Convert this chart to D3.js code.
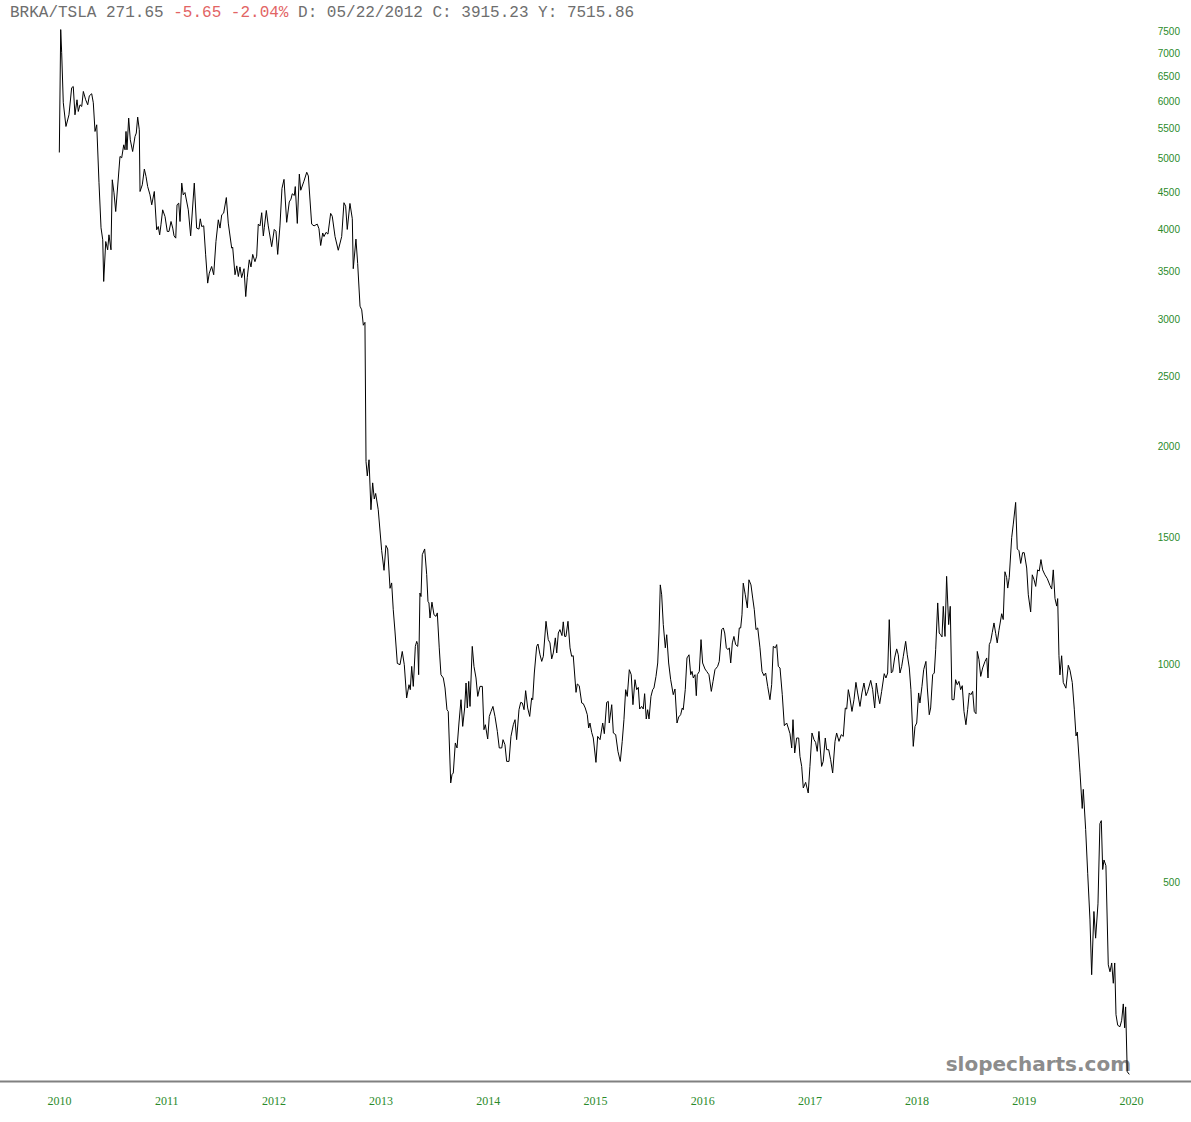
<!DOCTYPE html>
<html>
<head>
  <meta charset="utf-8">
  <title>BRKA/TSLA</title>
  <style>
    body { margin: 0; background: #fff; }
    svg { display: block; }
  </style>
</head>
<body>
  <script src="https://d3js.org/d3.v7.min.js"></script>
  <script>
    // tick labels
    var years = [2010, 2011, 2012, 2013, 2014, 2015, 2016, 2017, 2018, 2019, 2020];
    var yTicks = [500, 1000, 1500, 2000, 2500, 3000, 3500, 4000, 4500, 5000, 5500, 6000, 6500, 7000, 7500];

    // header line: ticker, last, change, hover info
    var header = [
      { text: "BRKA/TSLA 271.65 ", color: "#6e6e6e" },
      { text: "-5.65 -2.04%", color: "#e26464" },
      { text: " D: 05/22/2012 C: 3915.23 Y: 7515.86", color: "#6e6e6e" }
    ];

    // series (decimal year, ratio)
    var dates = [
      2010.003,2010.016,2010.025,2010.040,2010.065,2010.093,2010.118,2010.133,2010.149,2010.168,
      2010.180,2010.196,2010.212,2010.227,2010.249,2010.268,2010.283,2010.305,2010.320,2010.336,
      2010.352,2010.373,2010.392,2010.408,2010.417,2010.436,2010.454,2010.466,2010.485,2010.497,
      2010.513,2010.529,2010.569,2010.585,2010.604,2010.616,2010.625,2010.634,2010.650,2010.665,
      2010.687,2010.709,2010.721,2010.734,2010.749,2010.756,2010.777,2010.796,2010.812,2010.827,
      2010.849,2010.865,2010.889,2010.911,2010.926,2010.939,2010.951,2010.967,2010.989,2011.010,
      2011.026,2011.045,2011.061,2011.073,2011.089,2011.101,2011.117,2011.129,2011.145,2011.159,
      2011.175,2011.206,2011.228,2011.262,2011.284,2011.306,2011.318,2011.331,2011.350,2011.368,
      2011.387,2011.402,2011.424,2011.443,2011.464,2011.486,2011.502,2011.518,2011.536,2011.561,
      2011.579,2011.611,2011.620,2011.642,2011.658,2011.673,2011.688,2011.704,2011.726,2011.742,
      2011.756,2011.775,2011.791,2011.807,2011.828,2011.844,2011.859,2011.875,2011.891,2011.906,
      2011.915,2011.934,2011.952,2011.984,2012.008,2012.024,2012.040,2012.061,2012.080,2012.099,
      2012.124,2012.148,2012.164,2012.176,2012.195,2012.204,2012.223,2012.242,2012.255,2012.285,
      2012.311,2012.326,2012.357,2012.379,2012.409,2012.425,2012.441,2012.460,2012.472,2012.491,
      2012.509,2012.534,2012.549,2012.575,2012.605,2012.637,2012.658,2012.674,2012.689,2012.714,
      2012.736,2012.745,2012.770,2012.786,2012.808,2012.824,2012.839,2012.854,2012.864,2012.876,
      2012.892,2012.910,2012.926,2012.941,2012.954,2012.978,2013.010,2013.032,2013.050,2013.066,
      2013.088,2013.103,2013.118,2013.134,2013.156,2013.181,2013.202,2013.221,2013.243,2013.265,
      2013.277,2013.290,2013.305,2013.324,2013.337,2013.346,2013.355,2013.367,2013.377,2013.389,
      2013.411,2013.430,2013.442,2013.451,2013.461,2013.479,2013.498,2013.517,2013.529,2013.547,
      2013.563,2013.585,2013.601,2013.619,2013.631,2013.654,2013.666,2013.678,2013.697,2013.713,
      2013.731,2013.750,2013.766,2013.784,2013.797,2013.809,2013.822,2013.834,2013.855,2013.871,
      2013.890,2013.906,2013.927,2013.949,2013.964,2013.977,2013.999,2014.014,2014.030,2014.048,
      2014.067,2014.089,2014.107,2014.130,2014.142,2014.160,2014.176,2014.198,2014.216,2014.238,
      2014.254,2014.269,2014.291,2014.307,2014.322,2014.338,2014.353,2014.372,2014.391,2014.409,
      2014.419,2014.434,2014.456,2014.468,2014.487,2014.503,2014.518,2014.543,2014.564,2014.580,
      2014.596,2014.611,2014.630,2014.643,2014.658,2014.673,2014.692,2014.704,2014.717,2014.729,
      2014.748,2014.767,2014.782,2014.797,2014.823,2014.835,2014.853,2014.876,2014.891,2014.909,
      2014.928,2014.941,2014.953,2014.969,2014.984,2015.009,2015.025,2015.047,2015.072,2015.087,
      2015.109,2015.124,2015.133,2015.156,2015.171,2015.193,2015.214,2015.236,2015.254,2015.270,
      2015.286,2015.301,2015.320,2015.338,2015.354,2015.373,2015.389,2015.404,2015.417,2015.435,
      2015.450,2015.463,2015.478,2015.491,2015.504,2015.522,2015.538,2015.550,2015.569,2015.585,
      2015.597,2015.609,2015.622,2015.637,2015.656,2015.669,2015.687,2015.706,2015.730,2015.746,
      2015.765,2015.781,2015.799,2015.814,2015.823,2015.842,2015.858,2015.877,2015.893,2015.905,
      2015.917,2015.933,2015.945,2015.954,2015.973,2015.989,2016.004,2016.026,2016.042,2016.063,
      2016.085,2016.101,2016.119,2016.144,2016.159,2016.182,2016.197,2016.210,2016.225,2016.240,
      2016.253,2016.266,2016.281,2016.296,2016.312,2016.331,2016.346,2016.359,2016.371,2016.383,
      2016.402,2016.421,2016.436,2016.455,2016.471,2016.486,2016.502,2016.518,2016.539,2016.558,
      2016.576,2016.592,2016.611,2016.632,2016.648,2016.663,2016.682,2016.695,2016.710,2016.726,
      2016.747,2016.766,2016.788,2016.803,2016.819,2016.835,2016.847,2016.863,2016.881,2016.900,
      2016.912,2016.928,2016.943,2016.965,2016.989,2017.005,2017.024,2017.043,2017.058,2017.073,
      2017.089,2017.114,2017.129,2017.148,2017.161,2017.180,2017.198,2017.217,2017.239,2017.254,
      2017.276,2017.297,2017.316,2017.335,2017.348,2017.363,2017.378,2017.397,2017.416,2017.434,
      2017.450,2017.472,2017.490,2017.509,2017.528,2017.544,2017.572,2017.590,2017.609,2017.624,
      2017.640,2017.656,2017.674,2017.698,2017.714,2017.730,2017.745,2017.764,2017.777,2017.795,
      2017.814,2017.829,2017.845,2017.861,2017.876,2017.898,2017.913,2017.932,2017.947,2017.969,
      2017.985,2018.001,2018.019,2018.031,2018.050,2018.066,2018.087,2018.100,2018.118,2018.131,
      2018.150,2018.165,2018.178,2018.197,2018.211,2018.224,2018.237,2018.249,2018.265,2018.280,
      2018.299,2018.314,2018.330,2018.349,2018.364,2018.379,2018.395,2018.411,2018.426,2018.442,
      2018.460,2018.476,2018.491,2018.507,2018.523,2018.538,2018.554,2018.566,2018.582,2018.598,
      2018.616,2018.638,2018.654,2018.666,2018.678,2018.691,2018.706,2018.722,2018.738,2018.752,
      2018.768,2018.794,2018.808,2018.824,2018.840,2018.850,2018.864,2018.887,2018.902,2018.924,
      2018.939,2018.955,2018.971,2018.989,2019.004,2019.027,2019.042,2019.064,2019.079,2019.095,
      2019.111,2019.129,2019.144,2019.160,2019.176,2019.197,2019.219,2019.244,2019.260,2019.275,
      2019.291,2019.307,2019.316,2019.328,2019.337,2019.353,2019.368,2019.393,2019.415,2019.431,
      2019.452,2019.471,2019.487,2019.499,2019.524,2019.545,2019.555,2019.577,2019.596,2019.617,
      2019.633,2019.654,2019.670,2019.692,2019.710,2019.723,2019.736,2019.748,2019.766,2019.788,
      2019.804,2019.820,2019.835,2019.848,2019.860,2019.876,2019.897,2019.913,2019.928,2019.941,
      2019.950,2019.965,2019.984
    ];

    var ratio = [
      5100,7540,7004,5974,5540,5750,6266,6291,5750,6031,
      5811,5936,5904,6193,6031,5936,6108,6148,5974,5453,
      5570,4632,4014,3863,3384,3842,3742,3925,3742,4676,
      4486,4227,5036,5015,5226,5144,5453,5144,5690,5310,
      5116,5366,5425,5708,5482,4505,4602,4838,4725,4577,
      4457,4318,4505,3988,4030,3925,4052,4250,4160,3967,
      3967,4095,4010,3913,3884,4318,4341,4095,4627,4457,
      4490,4250,3913,4627,4010,3997,4130,4030,4039,3683,
      3366,3475,3549,3457,3842,4117,4010,4183,4206,4419,
      4074,3762,3775,3457,3556,3438,3544,3425,3524,3225,
      3425,3625,3544,3688,3604,3667,4061,4038,4211,3911,
      4015,4241,4038,3780,3993,3970,3688,4038,4550,4682,
      4084,4358,4397,4473,4448,4576,4070,4761,4523,4655,
      4789,4734,4061,4038,4061,4002,3794,3948,3903,3956,
      3934,4202,4164,3903,3737,3903,4347,4299,3993,4337,
      4131,3524,3872,3584,3128,3092,2944,2971,1908,1823,
      1919,1637,1783,1694,1724,1637,1437,1350,1461,1445,
      1275,1297,1191,1113,1004,1000,1043,1000,899.6,938.3,
      923.6,994.6,933.3,1060,1077,1066,968.7,1256,1242,1419,
      1445,1332,1223,1217,1160,1220,1172,1166,1179,1055,
      968.7,958.6,928.6,866.6,861.9,686.5,704.8,708.6,779.6,767.3,
      830.7,894.6,821.8,871.3,943.4,871.3,948.3,875.7,1060,994.6,
      958.6,904.1,933.3,933.3,813.2,826.2,789.5,848.3,861.9,875.7,
      848.3,808.8,767.3,767.3,787.8,775.4,735.2,735.2,796.0,826.2,
      839.5,787.8,866.6,887.0,885.3,866.6,920.7,871.3,848.3,899.6,
      894.6,973.9,1060,1068,1032,1010.5,1027,1148,1083,1071.7,
      1018.5,1038,1089,1038,1106,1118,1097,1146,1094,1094,
      1148,1055,1027,1029,915.7,940.5,935.4,885.3,883.3,871.3,
      852.9,817.6,830.7,806.3,792.0,732.9,796.0,787.8,830.7,802.9,
      887.0,889.8,830.7,880.5,804.7,800.4,759.0,735.2,783.6,839.5,
      923.6,904.1,984.2,968.7,880.5,953.4,923.6,930.3,868.5,875.7,
      868.5,911.9,841.4,866.6,841.4,904.1,923.6,928.6,963.4,1005.4,
      1106,1289,1249,1136,1055,1100,1005.4,953.4,909.0,925.6,
      830.7,846.8,852.9,871.3,866.6,923.6,1021.7,1032,968.7,978.9,
      958.6,968.7,906.1,968.7,978.9,1083,1005.4,986.4,978.9,968.7,
      918.6,948.3,984.2,994.6,1010.5,1118,1124,1106,1055,1049,
      1055,1005.4,1071.7,1094,1066,1060,1124,1124,1172,1296,
      1249,1198,1310,1289,1236,1191,1118,1124,1055,978.9,
      965.6,973.9,933.3,894.6,938.3,1060,1055,1066,994.6,989.6,
      909.0,823.6,830.7,817.6,802.9,767.3,839.5,755.1,792.0,792.0,
      747.0,723.6,675.6,687.8,664.9,723.6,804.7,787.8,781.1,759.0,
      808.8,723.6,735.2,792.0,763.1,763.1,739.2,708.6,783.6,804.7,
      783.6,800.4,796.0,871.3,868.5,923.6,899.6,861.9,894.6,945.3,
      914.0,875.7,914.0,943.4,906.1,918.6,951.3,923.6,871.3,943.4,
      909.0,883.3,918.6,971.8,958.6,973.9,1154,973.9,978.9,1021.7,
      1051.5,1032,973.9,994.6,1027,1077,1032,989.6,923.6,771.2,
      821.8,830.7,914.0,885.3,933.3,984.2,1010.5,928.6,852.9,871.3,
      968.7,973.9,1049,1217,1106,1100,1092.4,1204,1094,1324.5,
      1136,1204,894.6,894.6,953.4,938.3,948.3,923.6,935.4,861.9,
      826.2,866.6,914.0,909.0,918.6,861.9,855.6,1043,1016,963.4,
      989.6,1010.5,1021.7,958.6,1066,1077,1108.5,1142,1103.9,1071.7,
      1115.5,1176,1154.5,1344,1319,1276,1319,1498,1564,1675.6,
      1445,1437,1380,1428,1428,1360,1249,1182.7,1331,1311.5,
      1282.8,1352,1347,1397,1352,1331,1315,1287,1272,1352,
      1234,1205,1234,1028.8,968.1,1028.8,945.0,928.0,998.1,982.3,
      945.0,868.0,797.3,807.0,710.4,633.0,672.6,592.1,515.1,445.2,
      373.0,456.1,419.0,467.3,603.1,608.9,521.3,537.3,527.6,384.9,
      376.5,387.2,363.0,387.2,328.5,317.6,316.1,322.7,339.9,315.0,
      336.7,274.0,271.65
    ];

    var width = 1191;
    var height = 1122;
    var baseY = 1081;
    var green = "#2a8a2a";

    var svg = d3.select("body")
      .append("svg")
      .attr("width", width)
      .attr("height", height);

    svg.append("rect")
      .attr("width", width)
      .attr("height", height)
      .attr("fill", "#fff");

    var x = d3.scaleLinear().domain([2010, 2020]).range([59, 1131]);
    var y = d3.scaleLog().domain([266, 7530]).range([baseY, 30]);

    // watermark sits under the line
    svg.append("text")
      .attr("x", 1131)
      .attr("y", 1071)
      .attr("text-anchor", "end")
      .attr("font-family", "DejaVu Sans, Verdana, sans-serif")
      .attr("font-weight", "bold")
      .attr("font-size", 20)
      .attr("fill", "#8c8c8c")
      .text("slopecharts.com");

    var points = d3.zip(dates, ratio);

    var line = d3.line()
      .x(function(d) { return x(d[0]); })
      .y(function(d) { return y(d[1]); });

    svg.append("path")
      .datum(points)
      .attr("fill", "none")
      .attr("stroke", "#000")
      .attr("stroke-width", 1)
      .attr("stroke-linejoin", "miter")
      .attr("d", line);

    // bottom rule across the whole width
    svg.append("line")
      .attr("x1", 0)
      .attr("x2", width)
      .attr("y1", baseY + 0.5)
      .attr("y2", baseY + 0.5)
      .attr("stroke", "#808080")
      .attr("stroke-width", 2);

    var xAxis = svg.append("g")
      .attr("transform", "translate(0," + baseY + ")")
      .call(d3.axisBottom(x).tickValues(years).tickSize(0).tickPadding(15).tickFormat(d3.format("d")));
    xAxis.select(".domain").remove();
    xAxis.selectAll("text")
      .attr("fill", green)
      .attr("font-family", "Liberation Serif, Times New Roman, serif")
      .attr("font-size", 12);

    var yAxis = svg.append("g")
      .attr("transform", "translate(1180,0)")
      .call(d3.axisRight(y).tickValues(yTicks).tickSize(0).tickPadding(0).tickFormat(d3.format("d")));
    yAxis.select(".domain").remove();
    yAxis.selectAll("text")
      .attr("text-anchor", "end")
      .attr("fill", green)
      .attr("font-family", "Liberation Sans, Arial, sans-serif")
      .attr("font-size", 10);

    var head = svg.append("text")
      .attr("x", 10)
      .attr("y", 17)
      .attr("font-family", "Liberation Mono, Courier New, monospace")
      .attr("font-size", 16)
      .style("white-space", "pre");
    head.selectAll("tspan")
      .data(header)
      .enter().append("tspan")
      .attr("fill", function(d) { return d.color; })
      .text(function(d) { return d.text; });
  </script>
</body>
</html>
